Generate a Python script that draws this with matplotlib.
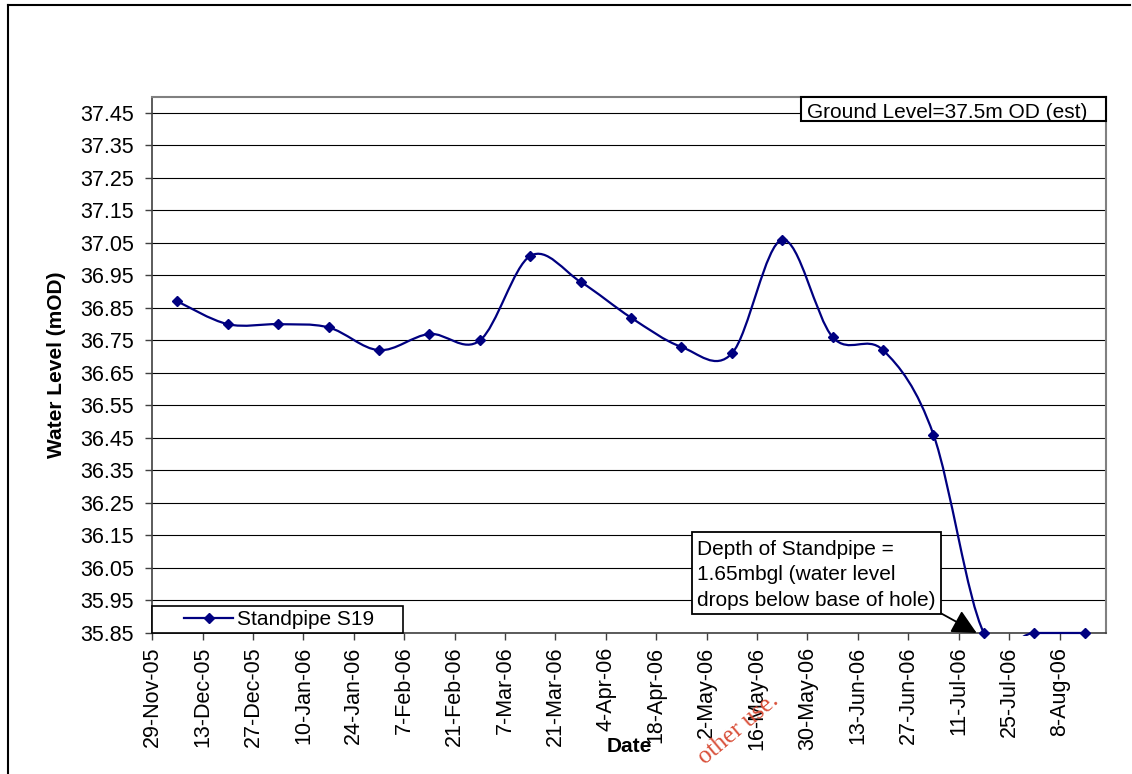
import matplotlib
matplotlib.use('Agg')
import matplotlib.pyplot as plt
import matplotlib.dates as mdates
import numpy as np
import pandas as pd
from matplotlib.path import Path
from matplotlib.patches import PathPatch, Rectangle
from matplotlib.lines import Line2D
from matplotlib.legend_handler import HandlerLine2D

plt.rcParams['font.family'] = ['Liberation Sans', 'DejaVu Sans']

# fortnightly dip readings
reading_dates = ['2005-12-06', '2005-12-20', '2006-01-03', '2006-01-17', '2006-01-31',
                 '2006-02-14', '2006-02-28', '2006-03-14', '2006-03-28', '2006-04-11',
                 '2006-04-25', '2006-05-09', '2006-05-23', '2006-06-06', '2006-06-20',
                 '2006-07-04', '2006-07-18', '2006-08-01', '2006-08-15']
water_levels = [36.87, 36.80, 36.80, 36.79, 36.72,
                36.77, 36.75, 37.01, 36.93, 36.82,
                36.73, 36.71, 37.06, 36.76, 36.72,
                36.46, 35.85, 35.85, 35.85]

tick_dates = ['2005-11-29', '2005-12-13', '2005-12-27', '2006-01-10', '2006-01-24',
              '2006-02-07', '2006-02-21', '2006-03-07', '2006-03-21', '2006-04-04',
              '2006-04-18', '2006-05-02', '2006-05-16', '2006-05-30', '2006-06-13',
              '2006-06-27', '2006-07-11', '2006-07-25', '2006-08-08']
level_ticks = [35.85, 35.95, 36.05, 36.15, 36.25, 36.35, 36.45, 36.55, 36.65,
               36.75, 36.85, 36.95, 37.05, 37.15, 37.25, 37.35, 37.45]
x_start, x_end = '2005-11-29', '2006-08-21'
y_bottom, y_top = 35.85, 37.50

series_name = 'Standpipe S19'
ground_note = 'Ground Level=37.5m OD (est)'
depth_note = 'Depth of Standpipe =\n1.65mbgl (water level\ndrops below base of hole)'
depth_arrow_date = '2006-07-16'

navy = '#000080'
fs = 15


def smooth_path(xs, ys):
    # excel-style smoothed line: bezier segments with catmull-rom control points
    pts = np.column_stack([xs, ys])
    n = len(pts)
    verts = [pts[0]]
    codes = [Path.MOVETO]
    for i in range(n - 1):
        p0 = pts[max(i - 1, 0)]
        p1 = pts[i]
        p2 = pts[i + 1]
        p3 = pts[min(i + 2, n - 1)]
        verts += [p1 + (p2 - p0) / 6, p2 - (p3 - p1) / 6, p2]
        codes += [Path.CURVE4] * 3
    return Path(verts, codes)


fig = plt.figure(figsize=(11.32, 7.74), dpi=100)
ax = fig.add_axes([0.1345, 0.1822, 0.8428, 0.6929])

dates = pd.to_datetime(reading_dates)
ax.plot(dates, water_levels, ls='none', marker='D', ms=5.5, color=navy,
        mec=navy, zorder=4, clip_on=False)

xs = mdates.date2num(dates)
curve = PathPatch(smooth_path(xs, water_levels), fill=False, edgecolor=navy,
                  lw=1.6, zorder=3)
ax.add_patch(curve)
clip_rect = Rectangle((0, -0.006), 1, 1.012, transform=ax.transAxes)
curve.set_clip_path(clip_rect)

ax.set_xlim(pd.Timestamp(x_start), pd.Timestamp(x_end))
ax.set_ylim(y_bottom, y_top)
ax.set_xticks(pd.to_datetime(tick_dates))
ax.xaxis.set_major_formatter(plt.FuncFormatter(
    lambda v, pos: (lambda d: f"{d.day}-{d:%b-%y}")(mdates.num2date(v))))
ax.set_yticks(level_ticks)
ax.yaxis.set_major_formatter(plt.FormatStrFormatter('%.2f'))
ax.grid(axis='y', color='black', lw=0.8)
ax.set_axisbelow(True)

ax.tick_params(axis='both', direction='out', length=5, width=1, labelsize=15.5, color='#404040')
ax.tick_params(axis='x', labelrotation=90, pad=5)
ax.tick_params(axis='y', pad=8)
for side in ['left', 'bottom']:
    ax.spines[side].set_color('#404040')
    ax.spines[side].set_linewidth(1.2)
for side in ['top', 'right']:
    ax.spines[side].set_color('#808080')
    ax.spines[side].set_linewidth(1.5)

ax.set_ylabel('Water Level (mOD)', fontsize=fs, fontweight='bold')
ax.yaxis.set_label_coords(-0.1, 0.5)
ax.yaxis.label.set_va('center')
ax.set_xlabel('Date', fontsize=fs, fontweight='bold')
ax.xaxis.set_label_coords(0.5, -0.211)
ax.xaxis.label.set_va('center')

# legend box sits on the bottom-left corner of the plot area
handle = Line2D([], [], color=navy, lw=1.6, marker='D', ms=5.5, mec=navy)
leg = ax.legend([handle], [series_name], loc='lower left',
                bbox_to_anchor=(0, 0, 0.2628, 0.058), mode='expand',
                borderaxespad=0, borderpad=0.18, handlelength=3.7,
                handletextpad=0.2, fancybox=False, edgecolor='black',
                framealpha=1, fontsize=fs,
                handler_map={handle: HandlerLine2D(xpad=1.35)})
leg.get_frame().set_linewidth(1.2)

# ground level note, top right
ax.add_patch(Rectangle((0.6804, 0.9545), 0.3196, 0.0455, transform=ax.transAxes,
                       fc='white', ec='black', lw=1.5, zorder=5, clip_on=False))
ax.text(0.6866, 0.9609, ground_note, transform=ax.transAxes, fontsize=fs,
        va='baseline', ha='left', zorder=6)

# standpipe depth call-out with arrow
ax.add_patch(Rectangle((0.5654, 0.0354), 0.2613, 0.1535, transform=ax.transAxes,
                       fc='white', ec='black', lw=1.3, zorder=5, clip_on=False))
ax.text(0.5707, 0.0503, depth_note, transform=ax.transAxes, fontsize=fs,
        va='baseline', ha='left', linespacing=1.45, zorder=6)
ax.annotate('', xy=(mdates.date2num(pd.Timestamp(depth_arrow_date)), y_bottom),
            xycoords='data', xytext=(0.8267, 0.0367), textcoords='axes fraction',
            arrowprops=dict(arrowstyle='-|>,head_length=1.0,head_width=0.5',
                            mutation_scale=15, color='black', lw=1.3,
                            shrinkA=0, shrinkB=0),
            annotation_clip=False, zorder=6)

# page frame and the stray watermark fragment
fig.add_artist(Line2D([0.00707, 0.9982], [0.9935, 0.9935], color='black', lw=1.5))
fig.add_artist(Line2D([0.00707, 0.00707], [0.0, 0.9935], color='black', lw=1.5))
fig.text(0.689, 0.093, 'other use.', color='#d9503a', fontsize=18,
         family=['Liberation Serif', 'DejaVu Serif'], rotation=40,
         rotation_mode='anchor', ha='right', va='baseline')

fig.savefig('out.png', dpi=100)
